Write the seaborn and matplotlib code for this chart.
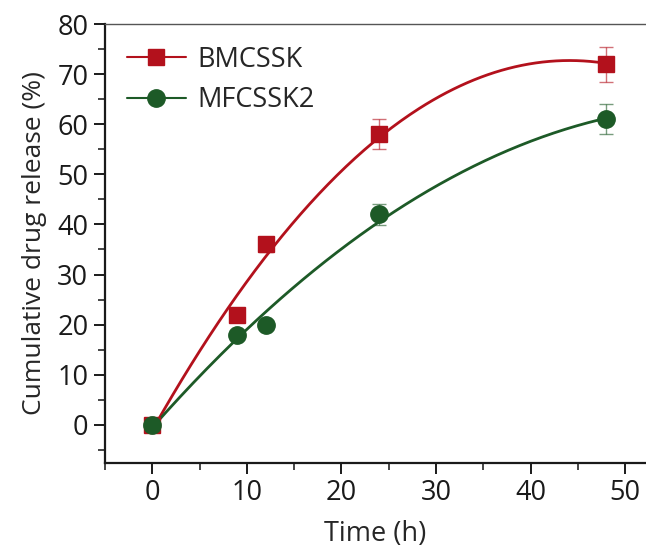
import numpy as np
import pandas as pd
import matplotlib
matplotlib.use("Agg")
import matplotlib.pyplot as plt
import seaborn as sns
from matplotlib.ticker import MultipleLocator
from matplotlib.lines import Line2D

# data
time_h = [0, 9, 12, 24, 48]
bmcssk = [0, 22, 36, 58, 72]
bmcssk_err = [0.4, 0.6, 1.5, 3.0, 3.5]
mfcssk2 = [0, 18, 20, 42, 61]
mfcssk2_err = [0.4, 0.5, 0.6, 2.1, 3.0]

red = "#b3111c"
green = "#1d5a27"

sns.set_theme(style="ticks")
plt.rcParams["font.family"] = ["Open Sans", "DejaVu Sans"]

fig = plt.figure(figsize=(6.46, 5.49), dpi=100)
ax = fig.add_axes([0.1625, 0.157, 0.8375, 0.799])

# second-order polynomial fits, as in the original
grid = np.linspace(0, 48, 200)
fits = []
for name, ys in [("BMCSSK", bmcssk), ("MFCSSK2", mfcssk2)]:
    coef = np.polyfit(time_h, ys, 2)
    fits.append(pd.DataFrame({"t": grid, "y": np.polyval(coef, grid), "s": name}))
fit_df = pd.concat(fits)
sns.lineplot(data=fit_df, x="t", y="y", hue="s", palette=[red, green],
             linewidth=2, legend=False, ax=ax)

ax.errorbar(time_h, bmcssk, yerr=bmcssk_err, fmt="none", ecolor=red, alpha=0.6,
            elinewidth=1, capsize=5, capthick=1, zorder=3)
ax.errorbar(time_h, mfcssk2, yerr=mfcssk2_err, fmt="none", ecolor=green, alpha=0.6,
            elinewidth=1, capsize=5, capthick=1, zorder=3)
ax.plot(time_h, bmcssk, "s", color=red, markersize=11, linestyle="none", zorder=4)
ax.plot(time_h, mfcssk2, "o", color=green, markersize=12.5, linestyle="none", zorder=5)

ax.set_xlim(-5, 52.2)
ax.set_ylim(-7.6, 80)
ax.xaxis.set_major_locator(MultipleLocator(10))
ax.xaxis.set_minor_locator(MultipleLocator(5))
ax.yaxis.set_major_locator(MultipleLocator(10))
ax.yaxis.set_minor_locator(MultipleLocator(5))
ax.set_yticks(range(0, 81, 10))

for s in ["left", "bottom"]:
    ax.spines[s].set_linewidth(1.6)
    ax.spines[s].set_color("#1a1a1a")
ax.spines["right"].set_visible(False)
ax.spines["top"].set_linewidth(1.0)
ax.spines["top"].set_color("#555555")
ax.tick_params(which="major", direction="out", length=8, width=1.4, labelsize=19.5,
               colors="#1a1a1a", top=False, right=False, pad=4)
ax.tick_params(which="minor", direction="out", length=5, width=1.2, top=False, right=False)

ax.set_xlabel("Time (h)", fontsize=19.5, labelpad=9)
ax.set_ylabel("Cumulative drug release (%)", fontsize=19, labelpad=7)

handles = [
    Line2D([], [], color=red, marker="s", markersize=11, linewidth=1.5),
    Line2D([], [], color=green, marker="o", markersize=12.5, linewidth=1.5),
]
ax.legend(handles, ["BMCSSK", "MFCSSK2"], loc="upper left", frameon=False,
          fontsize=19.5, handlelength=2.2, handletextpad=0.4, labelspacing=0.45,
          bbox_to_anchor=(0.0, 1.0), borderaxespad=0.4, borderpad=0.4)

fig.savefig("out.png", dpi=100)
